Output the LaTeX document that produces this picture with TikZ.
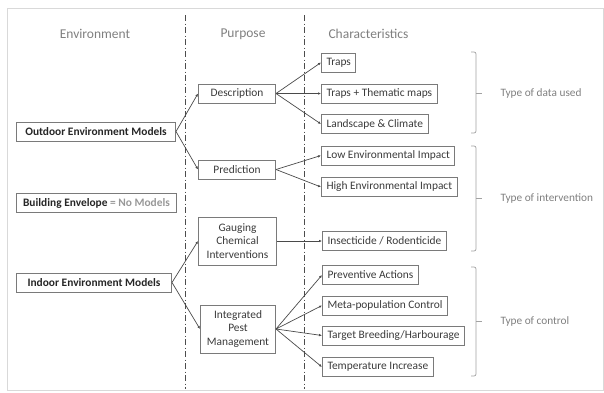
\documentclass[tikz,border=0pt]{standalone}
\usepackage{fontspec}
\setmainfont{Carlito}
\usetikzlibrary{arrows.meta}
\definecolor{boxtext}{HTML}{3A3A3A}
\definecolor{hdr}{HTML}{7F7F7F}
\definecolor{boxline}{HTML}{7A7A7A}
\definecolor{conn}{HTML}{4A4A4A}
\begin{document}
\begin{tikzpicture}[x=1pt,y=-1pt,
  bx/.style={draw=boxline,line width=1pt,text=boxtext,font=\fontsize{11.4}{13.8}\selectfont,inner xsep=5pt,inner ysep=0pt,minimum height=19pt},
  bold/.style={font=\fontsize{11.4}{13.8}\selectfont\bfseries,text=black!85},
  hd/.style={text=hdr,font=\fontsize{13.5}{16}\selectfont},
  lbl/.style={text=hdr,font=\fontsize{11.3}{13}\selectfont,anchor=west},
  con/.style={draw=conn,line width=0.7pt,-{Latex[length=3pt,width=2.6pt]}},
  div/.style={draw=black!70,line width=0.9pt,dash pattern=on 6pt off 2.5pt on 1pt off 2.5pt},
  brk/.style={draw=boxline!70,line width=0.7pt,rounded corners=2pt}]
\useasboundingbox (0,0) rectangle (604,392);
\draw[black!15,line width=0.8pt] (7,8) rectangle (603.5,390);
% dividers
\coordinate (d1t) at (185,15); \coordinate (d1b) at (185,389);
\coordinate (d2t) at (304,15); \coordinate (d2b) at (304,389);
\draw[div] (d1t) -- (d1b);
\draw[div] (d2t) -- (d2b);
% headers
\node[hd] (h1) at (95,34) {Environment};
\node[hd] (h2) at (243,34) {Purpose};
\node[hd,anchor=west] (h3) at (325,34) {Characteristics};
% left boxes
\node[bx,bold,minimum width=159pt,anchor=west] (out) at (16,131.5) {Outdoor Environment Models};
\node[bx,bold,minimum width=160pt,anchor=west] (bld) at (16,203) {Building Envelope \textcolor{hdr!80}{= No Models}};
\node[bx,bold,minimum width=155pt,anchor=west] (ind) at (16,282.5) {Indoor Environment Models};
% purpose boxes
\node[bx,minimum width=77pt,anchor=west] (desc) at (198,93.5) {Description};
\node[bx,minimum width=77pt,anchor=west] (pred) at (198,169.5) {Prediction};
\node[bx,minimum width=78pt,minimum height=48pt,align=center,anchor=west] (gau) at (198,241) {Gauging\\Chemical\\Interventions};
\node[bx,minimum width=75pt,minimum height=48pt,align=center,anchor=west] (ipm) at (200,329) {Integrated\\Pest\\Management};
% characteristics
\node[bx,anchor=west] (c1) at (321,62.5) {Traps};
\node[bx,anchor=west] (c2) at (321,93.5) {Traps + Thematic maps};
\node[bx,anchor=west] (c3) at (321,124) {Landscape \& Climate};
\node[bx,anchor=west] (c4) at (321,155.5) {Low Environmental Impact};
\node[bx,anchor=west] (c5) at (321,187) {High Environmental Impact};
\node[bx,anchor=west] (c6) at (322,241) {Insecticide / Rodenticide};
\node[bx,anchor=west] (c7) at (322,275) {Preventive Actions};
\node[bx,anchor=west] (c8) at (322,305.5) {Meta-population Control};
\node[bx,anchor=west] (c9) at (322,335.5) {Target Breeding/Harbourage};
\node[bx,anchor=west] (c10) at (322,367) {Temperature Increase};
% connectors
\draw[con] (out.east) -- (desc.west);
\draw[con] (out.east) -- (pred.west);
\draw[con] (ind.east) -- (gau.west);
\draw[con] (ind.east) -- (ipm.west);
\draw[con] (desc.east) -- (c1.west);
\draw[con] (desc.east) -- (c2.west);
\draw[con] (desc.east) -- (c3.west);
\draw[con] (pred.east) -- (c4.west);
\draw[con] (pred.east) -- (c5.west);
\draw[con] (gau.east) -- (c6.west);
\draw[con] (ipm.east) -- (c7.west);
\draw[con] (ipm.east) -- (c8.west);
\draw[con] (ipm.east) -- (c9.west);
\draw[con] (ipm.east) -- (c10.west);
% brackets
\draw[brk] (471,52) -- (476,52) -- (476,133) -- (471,133);
\draw[brk] (476,93) -- (482,93);
\node[lbl] (l1) at (497,93) {Type of data used};
\draw[brk] (471,146) -- (476,146) -- (476,251) -- (471,251);
\draw[brk] (476,198) -- (482,198);
\node[lbl] (l2) at (497,198) {Type of intervention};
\draw[brk] (471,267) -- (476,267) -- (476,376) -- (471,376);
\draw[brk] (476,321) -- (482,321);
\node[lbl] (l3) at (497,321) {Type of control};
\end{tikzpicture}
\end{document}
